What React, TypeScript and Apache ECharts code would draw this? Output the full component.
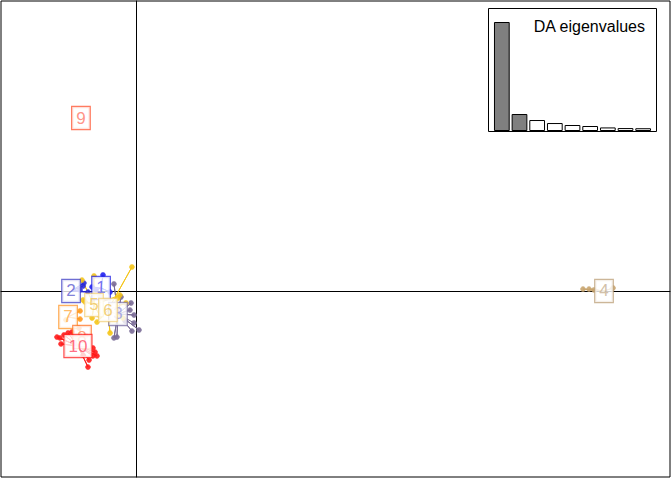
import React, { useEffect, useRef } from "react";
import * as echarts from "echarts";

const groups = ["1", "2", "3", "4", "5", "6", "7", "8", "9", "10"];
const centroidLD1 = [-2.33, -4.33, -1.2, 31.2, -2.8, -1.87, -4.53, -3.6, -3.67, -3.87];
const centroidLD2 = [0.2, 0.0, -1.53, 0.0, -0.93, -1.27, -1.73, -3.07, 11.53, -3.67];
const pointColors = ["#2020f0", "#2a2ad8", "#7a6c96", "#c8a46e", "#f2c21a", "#f5c518", "#ff9a1e", "#ff7a2a", "#ff6040", "#ff1a1a"];
const boxColors = ["#2e2ee6", "#4a4ac8", "#8076a8", "#bfa47e", "#f2d280", "#f2d280", "#ff9a30", "#ff7a30", "#ff5a38", "#ff2424"];
const textColors = ["#5858ee", "#6060d0", "#9a9ae0", "#c8b090", "#efc458", "#efc458", "#ffaa44", "#ff8a55", "#ff7868", "#ff4a66"];

const indiv1 = [[-2.2, 1.07], [-2.67, 0.07], [-1.73, -0.07], [-2.4, -0.33], [-2.93, 0.27]];
const indiv2 = [[-3.53, 0.33], [-3.47, 0.53], [-3.2, -0.07], [-3.73, 0.07]];
const indiv3 = [[-1.47, 0.47], [-1, -0.4], [-0.33, -0.8], [-0.13, -1.6], [0.2, -2.6], [-0.27, -2.67], [-1.27, -3.07], [-1.47, -3.13], [-0.73, -2], [-0.4, -1.27], [-0.13, -2.13]];
const indiv4 = [[29.8, 0.13], [30.2, 0.13], [31.8, 0.2], [30.53, 0.07]];
const indiv5 = [[-3.6, 0.73], [-2.8, 1], [-3.53, -0.6], [-3.4, -0.73], [-2.4, -1.67], [-2.93, -1.8], [-1.07, -0.27]];
const indiv6 = [[-0.27, 1.6], [-0.67, -0.8], [-0.87, -1.8], [-1.73, -2.8], [-2.6, -2.07], [-1.2, -0.47]];
const indiv7 = [[-3.73, -1.33], [-3.73, -1.87], [-4.67, -1.93]];
const indiv8 = [[-3.8, -2.47], [-3.33, -3], [-4, -3.13]];
const indiv9 = [[-3.67, 11.53]];
const indiv10 = [[-5.27, -3.07], [-5, -3.53], [-4.8, -2.93], [-4.53, -2.8], [-3.13, -4.6], [-2.87, -4.33], [-2.6, -4.33], [-2.73, -4.07], [-3.2, -5.07], [-3.53, -4.27], [-2.87, -3.8], [-4.27, -2.73], [-5.07, -3.13]];
const individuals = [indiv1, indiv2, indiv3, indiv4, indiv5, indiv6, indiv7, indiv8, indiv9, indiv10];

const eigenLabels = ["1", "2", "3", "4", "5", "6", "7", "8", "9"];
const eigenValues = [2600, 405, 262, 190, 143, 119, 85, 70, 66];

export default function App() {
  const ref = useRef<HTMLDivElement>(null);
  useEffect(() => {
    const chart = echarts.init(ref.current!, null, { renderer: "svg" });
    const series: any[] = [];
    groups.forEach((g, i) => {
      const c = [centroidLD1[i], centroidLD2[i]];
      const star: number[][] = [];
      individuals[i].forEach((p) => {
        star.push(c, p);
      });
      series.push({
        type: "line",
        xAxisIndex: 0,
        yAxisIndex: 0,
        data: star,
        showSymbol: false,
        symbol: "none",
        lineStyle: { color: pointColors[i], width: 1 },
        z: 2,
        silent: true,
      });
    });
    groups.forEach((g, i) => {
      if (i === 8) return;
      series.push({
        type: "scatter",
        xAxisIndex: 0,
        yAxisIndex: 0,
        data: individuals[i],
        symbolSize: 5,
        itemStyle: { color: pointColors[i], borderColor: pointColors[i], borderWidth: 0.5, opacity: 0.9 },
        z: 3,
      });
    });
    series.push({
      type: "scatter",
      xAxisIndex: 0,
      yAxisIndex: 0,
      symbolSize: 0,
      z: 5,
      data: groups.map((g, i) => ({
        value: [centroidLD1[i], centroidLD2[i]],
        label: {
          show: true,
          position: "inside",
          formatter: g,
          color: textColors[i],
          backgroundColor: "#ffffff",
          borderColor: boxColors[i],
          borderWidth: 1.2,
          padding: [3, 4, 3, 4],
          fontSize: 17,
          lineHeight: 16,
          fontFamily: "Liberation Sans",
        },
      })),
    });
    series.push({
      type: "bar",
      xAxisIndex: 1,
      yAxisIndex: 1,
      data: eigenValues.map((v, i) => ({
        value: v,
        itemStyle: { color: i < 2 ? "#7f7f7f" : "#ffffff", borderColor: "#000", borderWidth: 1 },
      })),
      barCategoryGap: "11%",
      z: 10,
    });

    chart.setOption({
      animation: false,
      backgroundColor: "#ffffff",
      grid: [
        { left: 1, top: 1, width: 669, height: 476, show: true, borderColor: "#000", borderWidth: 1, backgroundColor: "transparent" },
        { left: 493, top: 22, width: 159, height: 109 },
      ],
      xAxis: [
        {
          type: "value", gridIndex: 0, min: -9, max: 35.6,
          axisLine: { show: true, onZero: true, lineStyle: { color: "#000", width: 1 } },
          axisTick: { show: false }, axisLabel: { show: false }, splitLine: { show: false },
        },
        {
          type: "category", gridIndex: 1, data: eigenLabels,
          axisLine: { show: false }, axisTick: { show: false }, axisLabel: { show: false },
        },
      ],
      yAxis: [
        {
          type: "value", gridIndex: 0, min: -12.4, max: 19.333,
          axisLine: { show: true, onZero: true, lineStyle: { color: "#000", width: 1 } },
          axisTick: { show: false }, axisLabel: { show: false }, splitLine: { show: false },
        },
        {
          type: "value", gridIndex: 1, min: 0, max: 2600,
          axisLine: { show: false }, axisTick: { show: false }, axisLabel: { show: false }, splitLine: { show: false },
        },
      ],
      graphic: [
        {
          type: "rect", z: 8,
          shape: { x: 488.5, y: 8.5, width: 168, height: 123 },
          style: { fill: "#ffffff", stroke: "#000", lineWidth: 1 },
        },
        {
          type: "text", z: 12, x: 645, y: 26,
          style: { text: "DA eigenvalues", fill: "#000", fontSize: 16, fontFamily: "Liberation Sans", align: "right", verticalAlign: "middle" },
        },
      ],
      series,
    });
    return () => chart.dispose();
  }, []);
  return <div ref={ref} style={{ width: 672, height: 480, position: "absolute", left: 0, top: 0 }} />;
}
